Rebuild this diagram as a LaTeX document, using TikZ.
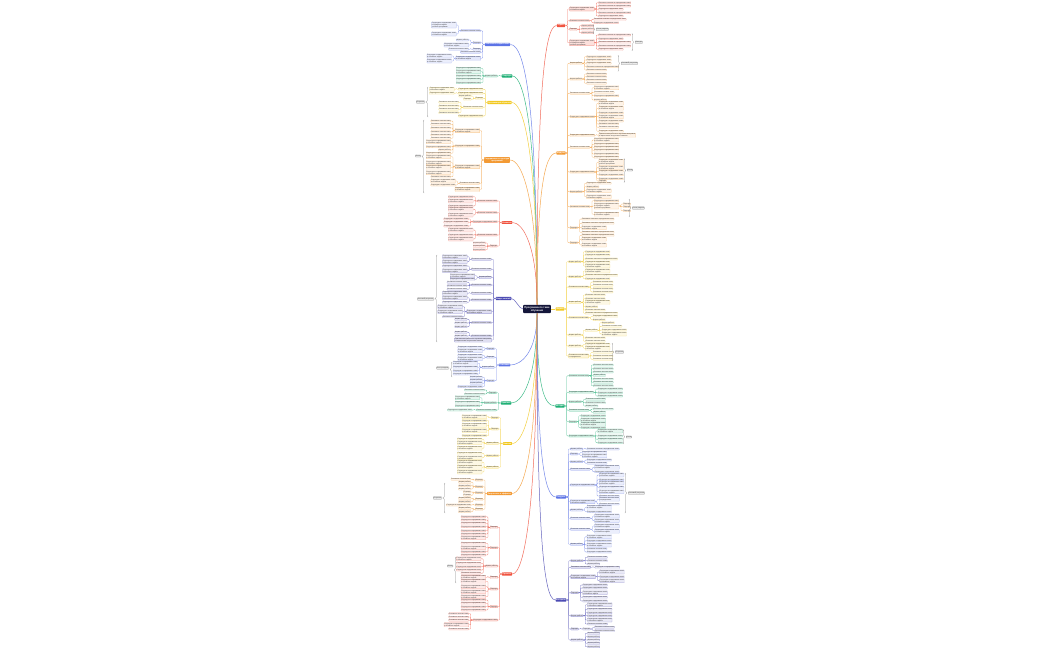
\documentclass[tikz,border=0pt]{standalone}
\usepackage{fontspec}
\setmainfont{Liberation Sans}
\usetikzlibrary{decorations.pathreplacing}
\definecolor{cR}{HTML}{F0533F}
\definecolor{cO}{HTML}{F39A34}
\definecolor{cY}{HTML}{F2C81E}
\definecolor{cG}{HTML}{1DAF74}
\definecolor{cB}{HTML}{5C73E6}
\definecolor{cI}{HTML}{4B4AB3}
\definecolor{cN}{HTML}{14163A}
\definecolor{cT}{HTML}{333333}
\newcommand\txA{Подходы}
\newcommand\txB{Формы работы}
\newcommand\txC{Основные понятия темы}
\newcommand\txD{Структура и содержание темы}
\newcommand\txE{Основные понятия и определения темы}
\newcommand\txF{Практическая работа по изучению нового материала}
\newcommand\txG{Основные понятия темы\\и определения}
\newcommand\txH{Структура и содержание темы\\и основные задачи}
\newcommand\txJ{Практическая работа по изучению материала\\и закрепление полученных навыков}
\newcommand\txI{Структура и содержание темы\\и основные задачи\\учебной программы}
\tikzset{
 lf/.style={fill=#1!12, draw=#1!50, line width=0.2pt, rounded corners=0.5pt, inner sep=0.3pt, text=cT, align=left, font=\fontsize{1.7}{2.0}\selectfont},
 lv/.style={lf=#1, fill=#1!18, draw=#1!70},
 mn/.style={fill=#1, text=white, font=\fontsize{2}{2.4}\selectfont\bfseries, rounded corners=0.6pt, inner sep=0.7pt, align=center},
 rt/.style={fill=cN, text=white, font=\fontsize{2.6}{3.1}\selectfont\bfseries, rounded corners=0.8pt, inner sep=1.3pt, align=center},
 ln/.style={draw=#1!75, line width=0.25pt, rounded corners=0.8pt},
 ml/.style={draw=#1!85, line width=0.5pt},
 br/.style={draw=black!45, line width=0.3pt, decorate, decoration={brace, amplitude=1.5pt}},
 sm/.style={fill=black!8, draw=black!40, line width=0.25pt, rounded corners=0.6pt, inner sep=0.5pt, text=cT, font=\fontsize{1.7}{2}\selectfont}
}
\newcommand\kidsR[4]{%
  \path (#1.east) ++(4pt,0) coordinate (#1-x);
  \foreach \qy/\qc [count=\qk] in {#4}{%
    \node[#3=#2,anchor=west] (#1-\qk) at (#1-x |- 0,\qy) {\csname tx\qc\endcsname};
    \draw[ln=#2] (#1.east) -- ++(2pt,0) |- (#1-\qk.west);
  }}
\newcommand\kidsL[4]{%
  \path (#1.west) ++(-4pt,0) coordinate (#1-x);
  \foreach \qy/\qc [count=\qk] in {#4}{%
    \node[#3=#2,anchor=east] (#1-\qk) at (#1-x |- 0,\qy) {\csname tx\qc\endcsname};
    \draw[ln=#2] (#1.west) -- ++(-2pt,0) |- (#1-\qk.east);
  }}
\newcommand\summR[6]{%
  \coordinate (#1-a) at (#2,#3); \coordinate (#1-b) at (#2,#4);
  \draw[br] (#1-a) -- (#1-b);
  \node[sm,anchor=west] (#1) at (#2+3,#5) {#6};}
\newcommand\summL[6]{%
  \coordinate (#1-a) at (#2,#3); \coordinate (#1-b) at (#2,#4);
  \draw[br] (#1-b) -- (#1-a);
  \node[sm,anchor=east] (#1) at (#2-3,#5) {#6};}
\begin{document}
\begin{tikzpicture}[x=1pt,y=-1pt]
\fill[white] (0,0) rectangle (1050,650);
\path[use as bounding box] (0,0) rectangle (1050,650);
% root
\node[rt] (root) at (537,309) {Программа по теме\\обучения};
% main nodes right
\node[mn=cR] (R1) at (561,25.5) {Задачи};
\node[mn=cO] (O1) at (561,153) {Модули};
\node[mn=cY] (Y1) at (560,309) {Формы};
\node[mn=cG] (G1) at (560,406) {Методы};
\node[mn=cB] (B1) at (561,497) {Ресурсы};
\node[mn=cI] (I1) at (561,600) {Контроль};
% main nodes left
\node[mn=cB] (LB) at (497.5,44.5) {Основные направления};
\node[mn=cG] (LG) at (507,76) {Подходы};
\node[mn=cY] (LY) at (499.5,102.5) {Организация обучения};
\node[mn=cO] (LO) at (497,160) {Содержание и структура\\программы};
\node[mn=cR] (LR) at (507,222.5) {Развитие};
\node[mn=cI] (LI) at (503.5,298.5) {Виды занятий};
\node[mn=cB] (LB2) at (504.5,365) {Участники};
\node[mn=cG] (LG2) at (506,403) {Практика};
\node[mn=cY] (LY2) at (507.5,443.5) {Навыки};
\node[mn=cO] (LO2) at (499.5,493.5) {Результаты и эффекты};
\node[mn=cR] (LR2) at (507,574) {Проекты};
% main links
\draw[ml=cR] (root.north) .. controls +(0,-210) and +(-12,0) .. (R1.west);
\draw[ml=cO] (root.north) .. controls +(0,-110) and +(-12,0) .. (O1.west);
\draw[ml=cY] (root.east) -- (Y1.west);
\draw[ml=cG] (root.south) .. controls +(0,70) and +(-12,0) .. (G1.west);
\draw[ml=cB] (root.south) .. controls +(0,135) and +(-12,0) .. (B1.west);
\draw[ml=cI] (root.south) .. controls +(0,215) and +(-12,0) .. (I1.west);
\draw[ml=cB] (root.north) .. controls +(0,-195) and +(15,0) .. (LB.east);
\draw[ml=cG] (root.north) .. controls +(0,-170) and +(12,0) .. (LG.east);
\draw[ml=cY] (root.north) .. controls +(0,-150) and +(12,0) .. (LY.east);
\draw[ml=cO] (root.north) .. controls +(0,-105) and +(12,0) .. (LO.east);
\draw[ml=cR] (root.north) .. controls +(0,-60) and +(10,0) .. (LR.east);
\draw[ml=cI] (root.west) .. controls +(-4,0) and +(4,0) .. (LI.east);
\draw[ml=cB] (root.south) .. controls +(0,40) and +(10,0) .. (LB2.east);
\draw[ml=cG] (root.south) .. controls +(0,68) and +(10,0) .. (LG2.east);
\draw[ml=cY] (root.south) .. controls +(0,98) and +(10,0) .. (LY2.east);
\draw[ml=cO] (root.south) .. controls +(0,135) and +(12,0) .. (LO2.east);
\draw[ml=cR] (root.south) .. controls +(0,195) and +(12,0) .. (LR2.east);
% ---------- right red
\kidsR{R1}{cR}{lv}{9/H,20.7/C,29.3/A,42.7/I}
\kidsR{R1-1}{cR}{lf}{2.7/E,6/E,9.3/D,12.7/E,16/D}
\kidsR{R1-2}{cR}{lf}{19.3/E,22.7/D}
\kidsR{R1-3}{cR}{lf}{25.7/B,29/B,32.7/B}
\kidsR{R1-4}{cR}{lf}{35/E,38.7/D,42.3/E,46/E,49.3/D}
\summR{S1}{593}{24.5}{34}{29.3}{Итоги раздела}
\summR{S2}{632}{33.5}{50.8}{42.3}{Выводы}
% ---------- right orange
\kidsR{O1}{cO}{lv}{63.3/B,79/B,93.3/C,116.7/D,135.3/D,147.3/C,172/D,191.7/B,206.7/C,227.7/A,242.7/A}
\kidsR{O1-1}{cO}{lf}{56.7/D,60/D,63.3/D,66.7/E,70/C}
\kidsR{O1-2}{cO}{lf}{74/C,76.7/C,80/C,83.3/C}
\kidsR{O1-3}{cO}{lf}{87.7/H,92.3/C,95.7/D,100/B}
\kidsR{O1-4}{cO}{lf}{103.3/H,108.3/H,112.7/D,116.7/H,121/D,124/C,127.3/C,131.3/D}
\kidsR{O1-5}{cO}{lf}{135.3/J}
\kidsR{O1-6}{cO}{lf}{140/H,144.3/D,147.3/D,150.3/D,154/D,157.3/D}
\kidsR{O1-7}{cO}{lf}{162.3/I,167.6/H,171.3/D,174.7/D,178.7/D,181/A}
\kidsR{O1-8}{cO}{lf}{183.3/D,186.7/B,190.7/H,196.7/H}
\kidsR{O1-9}{cO}{lf}{200.7/D,206/I,214.3/H}
\kidsR{O1-9-2}{cO}{lf}{204/A,206.7/A,210.7/A}
\kidsR{O1-10}{cO}{lf}{219/E,223.3/E,227.7/H,232.3/E}
\kidsR{O1-11}{cO}{lf}{235.3/E,239.3/H,245/H}
\summR{S3}{618}{55.3}{71.4}{63.3}{Итоговый результат}
\summR{S4}{624}{158.5}{182.5}{170}{Итоги}
\summR{S5}{629}{199}{217}{208}{Итоги раздела}
% ---------- right yellow
\kidsR{Y1}{cY}{lv}{261.7/B,276.7/B,287/C,302.3/B,317.7/C,335/B,346/B,356/G}
\kidsR{Y1-1}{cY}{lf}{251.7/D,255/D,259/E,262.3/D,266/H}
\kidsR{Y1-2}{cY}{lf}{271/H,275.3/E,278.7/D}
\kidsR{Y1-3}{cY}{lf}{282/C,285.3/C,288.7/C,292/C}
\kidsR{Y1-4}{cY}{lf}{295/C,298.7/C,302.3/H,306.7/B,310/C,313.3/E}
\kidsR{Y1-5}{cY}{lf}{316.3/D,319.7/B}
\kidsR{Y1-6}{cY}{lf}{330.3/B,338/C,341.3/C}
\kidsR{Y1-6-1}{cY}{lf}{322.7/B,326.3/C,330/D,334/H}
\kidsR{Y1-7}{cY}{lf}{344.3/D,348.3/H}
\kidsR{Y1-8}{cY}{lf}{352.3/C,356/C,359.3/C}
\summR{S6}{612}{343}{361}{352}{Результат}
% ---------- right green
\kidsR{G1}{cG}{lv}{375.7/C,392.3/D,401.7/B,410.3/C,421.7/A,436/D}
\kidsR{G1-1}{cG}{lf}{365/C,368.7/C,372/C,375.3/B,379/C,382.3/C,385.7/C}
\kidsR{G1-2}{cG}{lf}{389/D,392.7/D,396/D}
\kidsR{G1-3}{cG}{lf}{399.3/C,402.7/C,406/B}
\kidsR{G1-4}{cG}{lf}{409/C,412.3/B}
\kidsR{G1-5}{cG}{lf}{415.7/D,420/H,424.3/H,427.7/D}
\kidsR{G1-6}{cG}{lf}{431/H,436/D,439.3/D,442.7/D}
\summR{S7}{623}{429.5}{444}{437}{Итоги}
% ---------- right blue
\kidsR{B1}{cB}{lv}{449/B,454/A,461.7/B,469.3/C,485/D,501.7/H,510/B,518.3/C,529.3/C,544.3/B}
\kidsR{B1-1}{cB}{lf}{449/E}
\kidsR{B1-2}{cB}{lf}{452.3/D,455.7/H}
\kidsR{B1-3}{cB}{lf}{460/D,463.3/C}
\kidsR{B1-4}{cB}{lf}{467.3/H,471.7/D}
\kidsR{B1-5}{cB}{lf}{475/H,479.7/D,483/H,487.3/D,491.7/H,496/C}
\kidsR{B1-6}{cB}{lf}{499.3/G,504/C}
\kidsR{B1-7}{cB}{lf}{507.3/H,511.7/D}
\kidsR{B1-8}{cB}{lf}{516/H,520.7/H}
\kidsR{B1-9}{cB}{lf}{526/H,531.3/H}
\kidsR{B1-10}{cB}{lf}{536.7/H,540.7/D,545/H,548.7/C,552/D}
\summR{S8}{625}{473}{513}{493}{Итоговый результат}
% ---------- right indigo
\kidsR{I1}{cI}{lv}{560.7/B,567.3/C,576.7/H,592.7/A,615.7/B,629/A,640/B}
\kidsR{I1-1}{cI}{lf}{557.3/C,560.7/C,564/B}
\kidsR{I1-2}{cI}{lf}{567.3/D}
\kidsR{I1-3}{cI}{lf}{572/H,576.7/D,580.7/H}
\kidsR{I1-4}{cI}{lf}{585/D,588/D,592.7/H,597.3/D,601/D}
\kidsR{I1-5}{cI}{lf}{604.7/H,609.3/D,612.7/D,615.7/D,620/H,624/C}
\kidsR{I1-6}{cI}{lf}{629/A}
\kidsR{I1-6-1}{cI}{lf}{627.3/C,630.7/C}
\kidsR{I1-7}{cI}{lf}{633.3/B,636.7/B,640/B,643.3/B,646.7/B}
% ---------- left blue
\kidsL{LB}{cB}{lv}{30.7/C,42.7/A,49.3/A,52.3/C,58.3/H}
\kidsL{LB-1}{cB}{lf}{25/I,34/H}
\kidsL{LB-2}{cB}{lf}{40/B,45/H}
\kidsL{LB-3}{cB}{lf}{49.3/C}
\kidsL{LB-5}{cB}{lf}{56/H,61/H}
% ---------- left green
\kidsL{LG}{cG}{lv}{76/B}
\kidsL{LG-1}{cG}{lf}{68.3/D,71.7/H,76/D,79.3/D,82.7/D}
% ---------- left yellow
\kidsL{LY}{cY}{lv}{89.3/D,93.3/D,98.3/A,107.3/C,116/D}
\kidsL{LY-1}{cY}{lf}{89.3/H}
\kidsL{LY-2}{cY}{lf}{93.3/D}
\kidsL{LY-3}{cY}{lf}{96/B,99.3/A}
\kidsL{LY-4}{cY}{lf}{102.3/C,106/C,109.3/C,112.7/C}
\summL{SL1}{428}{87}{117}{102}{Результат}
% ---------- left orange
\kidsL{LO}{cO}{lv}{130.7/H,146/D,166.7/H,183.3/C,189.3/H}
\kidsL{LO-1}{cO}{lf}{121/C,124.3/C,128/C,131.7/C,135/C,138.3/C}
\kidsL{LO-2}{cO}{lf}{141.7/H,146.7/D,150/B,153.3/D}
\kidsL{LO-3}{cO}{lf}{156.7/H,162.7/H,167.3/H,172.7/H,176.7/C}
\kidsL{LO-4}{cO}{lf}{181/H,185/D}
\summL{SL2}{424}{120}{193}{156}{Итоги}
% ---------- left red
\kidsL{LR}{cR}{lv}{201/C,212.7/C,221.7/D,235/C,246/A}
\kidsL{LR-1}{cR}{lf}{196.7/D,201/H,206/D}
\kidsL{LR-2}{cR}{lf}{209.3/H,215/H}
\kidsL{LR-3}{cR}{lf}{219/D,222.3/D,226/D}
\kidsL{LR-4}{cR}{lf}{230/H,235/D,239/H}
\kidsL{LR-5}{cR}{lf}{243/B,246.3/B,249.7/B}
% ---------- left indigo
\kidsL{LI}{cI}{lv}{259.3/C,269.3/C,277.3/B,285/C,293.3/C,300/C,311.7/H,322.7/C,336/C,340/J}
\kidsL{LI-1}{cI}{lf}{256.7/H,261.7/H}
\kidsL{LI-2}{cI}{lf}{266/D,270.7/H}
\kidsL{LI-3}{cI}{lf}{275.7/H,279.3/D}
\kidsL{LI-4}{cI}{lf}{282.3/C,285.7/C,289.3/C}
\kidsL{LI-5}{cI}{lf}{293.3/H}
\kidsL{LI-6}{cI}{lf}{297.7/H,302.3/D}
\kidsL{LI-7}{cI}{lf}{306.7/H,311.7/H,316.7/C}
\kidsL{LI-8}{cI}{lf}{319.3/B,323/B,326.7/B}
\kidsL{LI-9}{cI}{lf}{332.3/B,336/B}
\summL{SL3}{437}{255}{342}{299}{Итоговый результат}
% ---------- left blue 2
\kidsL{LB2}{cB}{lv}{348.7/A,357.3/A,367.3/B,380.7/A}
\kidsL{LB2-1}{cB}{lf}{347.3/D,350.7/H}
\kidsL{LB2-2}{cB}{lf}{355.3/D,358.7/H}
\kidsL{LB2-3}{cB}{lf}{363.3/H,367.3/D,370.7/D,374/D}
\kidsL{LB2-4}{cB}{lf}{377.3/B,380.3/B,383.3/B,386.6/D}
\summL{SL4}{452}{362}{377}{368}{Итоги раздела}
% ---------- left green 2
\kidsL{LG2}{cG}{lv}{392.7/A,402.7/B,410/C}
\kidsL{LG2-1}{cG}{lf}{390/C,394/C}
\kidsL{LG2-2}{cG}{lf}{397.7/H,402.3/D,405.7/D}
\kidsL{LG2-3}{cG}{lf}{410/D}
% ---------- left yellow 2
\kidsL{LY2}{cY}{lv}{417.7/A,429/A,443.3/B,455.7/B,467.3/B}
\kidsL{LY2-1}{cY}{lf}{416.7/H}
\kidsL{LY2-2}{cY}{lf}{420.6/D,425.2/H,430.6/H,435.6/D}
\kidsL{LY2-3}{cY}{lf}{439.3/D,442.7/H,448.3/H}
\kidsL{LY2-4}{cY}{lf}{453.3/D,457.7/H}
\kidsL{LY2-5}{cY}{lf}{462.3/H,467.3/H,472/H}
% ---------- left orange 2
\kidsL{LO2}{cO}{lv}{480/A,486.7/A,492.7/A,499.3/A,505/A,509.3/A}
\kidsL{LO2-1}{cO}{lf}{479.3/C}
\kidsL{LO2-2}{cO}{lf}{482.3/B,485.7/B,489/B}
\kidsL{LO2-3}{cO}{lf}{492/A,495.2/A}
\kidsL{LO2-4}{cO}{lf}{498.4/B,501.6/B}
\kidsL{LO2-5}{cO}{lf}{505/D}
\kidsL{LO2-6}{cO}{lf}{508.4/B,511.6/B}
\summL{SL5}{445}{483}{513}{498}{Результат}
% ---------- left red 2
\kidsL{LR2}{cR}{lv}{527.3/A,547.7/A,566/B,577.3/A,589/A,606.7/A,620/D}
\kidsL{LR2-1}{cR}{lf}{516.7/D,520/D,523.3/D,526.7/D,530.7/D,534/D,537.7/H}
\kidsL{LR2-2}{cR}{lf}{543.3/D,547.7/H,551.7/D,555/D}
\kidsL{LR2-3}{cR}{lf}{558.7/H,563.3/D,566.7/D,570/D,573.3/C}
\kidsL{LR2-4}{cR}{lf}{577.3/H}
\kidsL{LR2-5}{cR}{lf}{581.3/H,586.7/H,591.7/H,596.7/H}
\kidsL{LR2-6}{cR}{lf}{600/D,603.3/D,606.7/D,610/D}
\kidsL{LR2-7}{cR}{lf}{613.7/C,617/C,620.3/C,624.8/H,629/C}
\summL{SL6}{456}{557}{583}{566}{Итоги}
\end{tikzpicture}
\end{document}
